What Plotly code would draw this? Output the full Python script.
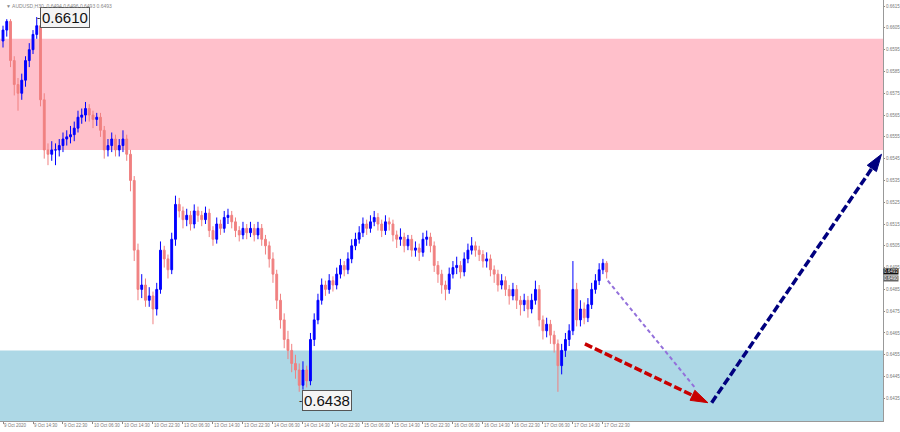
import plotly.graph_objects as go

# AUDUSD hourly candles
first_open = 0.6599
closes = [
    0.6604, 0.6608, 0.6590, 0.6579, 0.6575, 0.6581, 0.6590, 0.6595, 0.6602, 0.6606,
    0.6572, 0.6549, 0.6547, 0.6549, 0.6549, 0.6551, 0.6554, 0.6555, 0.6556, 0.6559,
    0.6564, 0.6565, 0.6568, 0.6565, 0.6563, 0.6564, 0.6558, 0.6549, 0.6551, 0.6554,
    0.6549, 0.6551, 0.6554, 0.6547, 0.6535, 0.6503, 0.6485, 0.6487, 0.6480, 0.6482,
    0.6476, 0.6485, 0.6503, 0.6499, 0.6494, 0.6508, 0.6524, 0.6521, 0.6517, 0.6519,
    0.6515, 0.6521, 0.6519, 0.6517, 0.6520, 0.6512, 0.6508, 0.6515, 0.6513, 0.6518,
    0.6519, 0.6516, 0.6512, 0.6510, 0.6513, 0.6511, 0.6513, 0.6510, 0.6513, 0.6508,
    0.6505, 0.6499, 0.6492, 0.6480, 0.6471, 0.6462, 0.6457, 0.6451, 0.6448, 0.6441,
    0.6448, 0.6443, 0.6462, 0.6471, 0.6480, 0.6487, 0.6485, 0.6489, 0.6487, 0.6492,
    0.6496, 0.6494, 0.6499, 0.6505, 0.6508, 0.6511, 0.6515, 0.6513, 0.6516, 0.6518,
    0.6515, 0.6512, 0.6516, 0.6515, 0.6510, 0.6508, 0.6509, 0.6505, 0.6508, 0.6503,
    0.6504, 0.6502, 0.6508, 0.6509, 0.6505, 0.6496, 0.6492, 0.6487, 0.6485, 0.6492,
    0.6495, 0.6496, 0.6493, 0.6499, 0.6503, 0.6505, 0.6503, 0.6501, 0.6498, 0.6499,
    0.6494, 0.6492, 0.6487, 0.6489, 0.6485, 0.6482, 0.6485, 0.6480, 0.6478, 0.6480,
    0.6476, 0.6480, 0.6485, 0.6471, 0.6466, 0.6469, 0.6464, 0.6460, 0.6450, 0.6457,
    0.6462, 0.6466, 0.6485, 0.6471, 0.6476, 0.6472, 0.6478, 0.6485, 0.6489, 0.6494,
    0.6497, 0.6493,
]
highs = [
    0.6606, 0.6609, 0.6609, 0.6592, 0.6582, 0.6584, 0.6592, 0.6598, 0.6604, 0.6610,
    0.6608, 0.6575, 0.6552, 0.6553, 0.6552, 0.6554, 0.6557, 0.6558, 0.6560, 0.6562,
    0.6567, 0.6568, 0.6571, 0.6570, 0.6567, 0.6566, 0.6566, 0.6560, 0.6554, 0.6557,
    0.6556, 0.6554, 0.6558, 0.6556, 0.6549, 0.6537, 0.6506, 0.6492, 0.6490, 0.6486,
    0.6484, 0.6488, 0.6507, 0.6505, 0.6501, 0.6511, 0.6528, 0.6527, 0.6523, 0.6522,
    0.6521, 0.6524, 0.6523, 0.6521, 0.6523, 0.6522, 0.6514, 0.6518, 0.6517, 0.6521,
    0.6522, 0.6521, 0.6518, 0.6514, 0.6516, 0.6515, 0.6516, 0.6515, 0.6516, 0.6515,
    0.6510, 0.6507, 0.6502, 0.6494, 0.6483, 0.6474, 0.6466, 0.6460, 0.6455, 0.6451,
    0.6452, 0.6450, 0.6465, 0.6474, 0.6483, 0.6490, 0.6489, 0.6492, 0.6491, 0.6495,
    0.6499, 0.6498, 0.6502, 0.6508, 0.6511, 0.6514, 0.6518, 0.6517, 0.6519, 0.6521,
    0.6520, 0.6517, 0.6519, 0.6518, 0.6517, 0.6512, 0.6513, 0.6511, 0.6510, 0.6510,
    0.6507, 0.6506, 0.6511, 0.6512, 0.6511, 0.6507, 0.6498, 0.6494, 0.6489, 0.6495,
    0.6498, 0.6500, 0.6498, 0.6502, 0.6506, 0.6509, 0.6507, 0.6505, 0.6503, 0.6502,
    0.6501, 0.6496, 0.6494, 0.6492, 0.6491, 0.6487, 0.6488, 0.6487, 0.6482, 0.6483,
    0.6482, 0.6483, 0.6489, 0.6487, 0.6473, 0.6472, 0.6471, 0.6466, 0.6462, 0.6460,
    0.6465, 0.6469, 0.6498, 0.6488, 0.6480, 0.6479, 0.6481, 0.6488, 0.6492, 0.6497,
    0.6499, 0.6498,
]
lows = [
    0.6596, 0.6601, 0.6587, 0.6574, 0.6567, 0.6572, 0.6578, 0.6587, 0.6593, 0.6600,
    0.6569, 0.6545, 0.6542, 0.6544, 0.6542, 0.6546, 0.6548, 0.6551, 0.6552, 0.6553,
    0.6557, 0.6561, 0.6562, 0.6562, 0.6559, 0.6560, 0.6555, 0.6545, 0.6546, 0.6548,
    0.6546, 0.6546, 0.6548, 0.6544, 0.6530, 0.6498, 0.6480, 0.6481, 0.6477, 0.6477,
    0.6469, 0.6473, 0.6483, 0.6495, 0.6490, 0.6492, 0.6505, 0.6518, 0.6513, 0.6514,
    0.6512, 0.6513, 0.6516, 0.6514, 0.6515, 0.6509, 0.6505, 0.6506, 0.6510, 0.6511,
    0.6515, 0.6513, 0.6509, 0.6507, 0.6508, 0.6508, 0.6509, 0.6507, 0.6508, 0.6505,
    0.6501, 0.6495, 0.6488, 0.6476, 0.6467, 0.6458, 0.6453, 0.6447, 0.6444, 0.6438,
    0.6439, 0.6440, 0.6441, 0.6459, 0.6469, 0.6478, 0.6482, 0.6483, 0.6484, 0.6485,
    0.6490, 0.6491, 0.6492, 0.6497, 0.6503, 0.6506, 0.6509, 0.6510, 0.6511, 0.6514,
    0.6512, 0.6509, 0.6510, 0.6512, 0.6507, 0.6504, 0.6505, 0.6502, 0.6503, 0.6500,
    0.6500, 0.6498, 0.6500, 0.6505, 0.6502, 0.6493, 0.6488, 0.6483, 0.6480, 0.6483,
    0.6490, 0.6492, 0.6490, 0.6491, 0.6497, 0.6501, 0.6500, 0.6498, 0.6495, 0.6495,
    0.6491, 0.6488, 0.6484, 0.6485, 0.6482, 0.6478, 0.6480, 0.6476, 0.6473, 0.6475,
    0.6472, 0.6474, 0.6478, 0.6468, 0.6462, 0.6463, 0.6460, 0.6456, 0.6438, 0.6446,
    0.6454, 0.6459, 0.6464, 0.6468, 0.6468, 0.6469, 0.6470, 0.6476, 0.6483, 0.6487,
    0.6492, 0.6490,
]

time_labels = [
    "9 Oct 2020", "9 Oct 14:30", "9 Oct 22:30", "10 Oct 06:30", "10 Oct 14:30",
    "10 Oct 22:30", "13 Oct 06:30", "13 Oct 14:30", "13 Oct 22:30", "14 Oct 06:30",
    "14 Oct 14:30", "14 Oct 22:30", "15 Oct 06:30", "15 Oct 14:30", "15 Oct 22:30",
    "16 Oct 06:30", "16 Oct 14:30", "16 Oct 22:30", "17 Oct 06:30", "17 Oct 14:30",
    "17 Oct 22:30",
]
price_ticks = [0.6615 - 0.001 * k for k in range(19)]
bid_ask = [0.6493, 0.6490]

# zones and forecast paths (candle index, price)
sell_zone = (0.6549, 0.6600)
buy_zone_top = 0.6457
purple_x, purple_y = [161.3, 184.5], [0.6489, 0.6440]
red_x, red_y = [155.2, 188.0], [0.6460, 0.6433]
navy_x, navy_y = [189.0, 234.3], [0.6433, 0.6547]
high_idx, high_val = 9, 0.6610
low_idx, low_val = 79, 0.6438

opens = [first_open] + closes[:-1]
idx = list(range(len(closes)))
y_range = [0.64246, 0.66178]
x_range = [-0.8, 234.7]
FONT = "Liberation Sans, Arial"

fig = go.Figure()
fig.add_hrect(y0=sell_zone[0], y1=sell_zone[1], fillcolor="#ffc0cb", opacity=1, line_width=0, layer="below")
fig.add_hrect(y0=y_range[0], y1=buy_zone_top, fillcolor="#add8e6", opacity=1, line_width=0, layer="below")

fig.add_trace(go.Candlestick(
    x=idx, open=opens, high=highs, low=lows, close=closes,
    increasing=dict(line=dict(color="#0000ff", width=1), fillcolor="#0000ff"),
    decreasing=dict(line=dict(color="#f08080", width=1), fillcolor="#f08080"),
    whiskerwidth=0, showlegend=False, hoverinfo="skip",
))

fig.add_trace(go.Scatter(
    x=purple_x, y=purple_y, mode="lines",
    line=dict(color="#9370db", width=2, dash="4px,3px"), showlegend=False, hoverinfo="skip",
))
for xs, ys, col in [(red_x, red_y, "#c80000"), (navy_x, navy_y, "#00007f")]:
    fig.add_trace(go.Scatter(
        x=xs, y=ys, mode="lines+markers", cliponaxis=False,
        line=dict(color=col, width=3.5, dash="8px,3px"),
        marker=dict(symbol=["circle", "arrow"], size=[0, 18], color=col, opacity=1,
                    line=dict(color=col, width=1), angleref="previous"),
        showlegend=False, hoverinfo="skip",
    ))

# high / low labels
for i, v, shift in [(high_idx, high_val, 0), (low_idx, low_val, -9)]:
    fig.add_annotation(
        x=i, y=v, text=f"{v:.4f}", xanchor="left", yanchor="middle", xshift=3, yshift=shift,
        showarrow=False, font=dict(family=FONT, size=15, color="#111"),
        bgcolor="#f4f4f4", bordercolor="#555", borderwidth=1, borderpad=1,
    )
    fig.add_annotation(
        x=i, y=v, text="-", xanchor="left", yanchor="middle", xshift=-2, yshift=shift,
        showarrow=False, font=dict(family=FONT, size=10, color="#222"),
    )

fig.add_annotation(
    xref="paper", yref="paper", x=0.004, y=0.998, xanchor="left", yanchor="top",
    text="▼ AUDUSD,H30  0.6494 0.6496 0.6493 0.6493", showarrow=False,
    font=dict(family=FONT, size=5, color="#888"),
)
for v, bg in zip(bid_ask, ["#111", "#666"]):
    fig.add_annotation(
        xref="paper", yref="y", x=1.0, y=v, xanchor="left", text=f"{v:.4f}",
        showarrow=False, font=dict(family=FONT, size=4.5, color="white"),
        bgcolor=bg, borderpad=0,
    )

fig.update_xaxes(
    range=x_range, tickvals=[8 * k for k in range(len(time_labels))], ticktext=time_labels,
    tickangle=0, ticks="outside", ticklen=2, tickcolor="#888", showgrid=False, zeroline=False,
    showline=True, linecolor="#999", mirror=True, rangeslider_visible=False,
    ticklabelposition="outside right", tickfont=dict(family=FONT, size=4.5, color="#777"),
)
fig.update_yaxes(
    range=y_range, side="right", tickvals=price_ticks, ticktext=[f"{t:.4f}" for t in price_ticks],
    ticks="outside", ticklen=1, tickcolor="#888", showgrid=False, zeroline=False,
    showline=True, linecolor="#999",
    tickfont=dict(family=FONT, size=4.5, color="#777"),
)
fig.update_layout(
    width=900, height=432, margin=dict(l=0, r=17, t=0, b=11, autoexpand=False),
    plot_bgcolor="white", paper_bgcolor="white",
)
fig.write_html("out.html", config={"displayModeBar": False},
               post_script="document.body.style.margin='0';")
